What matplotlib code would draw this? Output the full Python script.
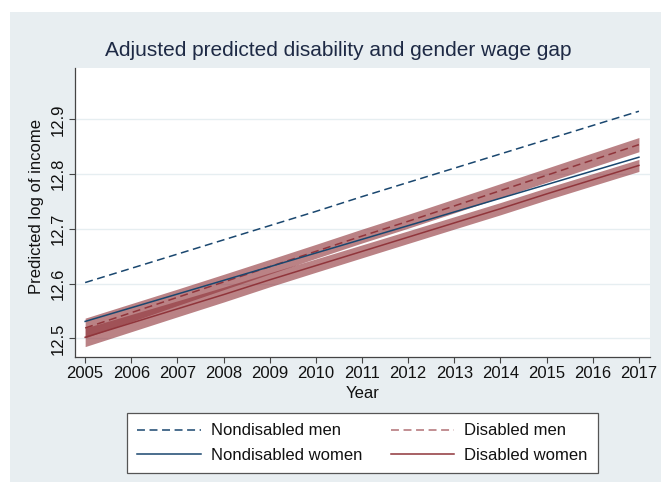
#!/usr/bin/env python3
"""Adjusted predicted log income by disability and gender, 2005-2017."""

from __future__ import annotations

import matplotlib

matplotlib.use("Agg")
import matplotlib.pyplot as plt
from matplotlib.lines import Line2D
from matplotlib.patches import Rectangle
import numpy as np


YEARS = [2005, 2006, 2007, 2008, 2009, 2010, 2011, 2012, 2013, 2014, 2015, 2016, 2017]

NONDISABLED_MEN = [12.602, 12.628, 12.654, 12.680, 12.706, 12.732, 12.759,
                   12.785, 12.811, 12.837, 12.863, 12.889, 12.915]
NONDISABLED_WOMEN = [12.531, 12.556, 12.581, 12.606, 12.631, 12.656, 12.681,
                     12.706, 12.731, 12.756, 12.781, 12.806, 12.831]
DISABLED_MEN = [12.519, 12.547, 12.575, 12.603, 12.631, 12.659, 12.687,
                12.714, 12.742, 12.770, 12.798, 12.826, 12.854]
DISABLED_WOMEN = [12.502, 12.528, 12.554, 12.580, 12.607, 12.633, 12.659,
                  12.685, 12.711, 12.737, 12.764, 12.790, 12.816]

# half-width of the 95% confidence band
DISABLED_MEN_CI = [0.018, 0.0165, 0.015, 0.014, 0.0133, 0.0128, 0.0127,
                   0.0127, 0.0127, 0.0128, 0.0129, 0.013, 0.013]
DISABLED_WOMEN_CI = [0.017, 0.0158, 0.0146, 0.0136, 0.0128, 0.0122, 0.0118,
                     0.0115, 0.0113, 0.0112, 0.0111, 0.011, 0.011]

Y_TICKS = [12.5, 12.6, 12.7, 12.8, 12.9]

NAVY = "#1A476F"
MAROON = "#90353B"
BACKGROUND = "#E8EEF1"
GRID = "#E6EEF1"
DASH = (0, (5.2, 3.0))


def main() -> int:
    plt.rcParams["font.family"] = ["Liberation Sans", "DejaVu Sans"]
    plt.rcParams["font.size"] = 12

    figure = plt.figure(figsize=(6.61, 4.82), dpi=100, facecolor="white")
    figure.patches.append(
        Rectangle((10 / 661, 0), 1, 1 - 12 / 482, transform=figure.transFigure,
                  facecolor=BACKGROUND, edgecolor="none", zorder=-1)
    )
    axis = figure.add_axes([75 / 661, 1 - 357 / 482, 575 / 661, 289 / 482])
    axis.set_facecolor("white")

    years = np.array(YEARS)
    men = np.array(DISABLED_MEN)
    women = np.array(DISABLED_WOMEN)
    men_ci = np.array(DISABLED_MEN_CI)
    women_ci = np.array(DISABLED_WOMEN_CI)

    axis.fill_between(years, men - men_ci, men + men_ci, color=MAROON,
                      alpha=0.62, linewidth=0, zorder=2)
    axis.fill_between(years, women - women_ci, women + women_ci, color=MAROON,
                      alpha=0.62, linewidth=0, zorder=2)

    lw = 1.1
    axis.plot(years, NONDISABLED_MEN, color=NAVY, linestyle=DASH, lw=lw, zorder=3)
    axis.plot(years, DISABLED_MEN, color=MAROON, linestyle=DASH, lw=lw, zorder=3)
    axis.plot(years, NONDISABLED_WOMEN, color=NAVY, lw=lw, zorder=3)
    axis.plot(years, DISABLED_WOMEN, color=MAROON, lw=lw, zorder=3)

    axis.set_xlim(2004.78, 2017.24)
    axis.set_ylim(12.466, 12.994)
    axis.set_xticks(YEARS)
    axis.set_yticks(Y_TICKS)
    axis.set_yticklabels([f"{v:.1f}" for v in Y_TICKS], rotation=90, va="center")
    axis.grid(axis="y", color=GRID, linewidth=1.0, zorder=1)
    axis.set_axisbelow(True)
    for side in ("top", "right"):
        axis.spines[side].set_visible(False)
    for side in ("left", "bottom"):
        axis.spines[side].set_color("#444444")
        axis.spines[side].set_linewidth(0.9)
    axis.tick_params(direction="out", length=4.5, width=0.8, color="#444444",
                     labelsize=12, labelcolor="#111111", pad=2)

    figure.text(338 / 661, 1 - 51 / 482, "Adjusted predicted disability and gender wage gap",
                ha="center", va="center", fontsize=15, color="#1E2A45")
    figure.text(37 / 661, 1 - 207 / 482, "Predicted log of income", rotation=90,
                ha="center", va="center", fontsize=12, color="#111111")
    figure.text(363 / 661, 1 - 393 / 482, "Year", ha="center", va="center",
                fontsize=12, color="#111111")

    handles = [
        Line2D([], [], color=NAVY, linestyle=DASH, lw=lw),
        Line2D([], [], color=NAVY, lw=lw),
        Line2D([], [], color=MAROON, linestyle=DASH, lw=lw, alpha=0.7),
        Line2D([], [], color=MAROON, lw=lw),
    ]
    labels = ["Nondisabled men", "Nondisabled women", "Disabled men", "Disabled women"]
    legend = figure.legend(
        handles, labels, ncol=2, loc="center",
        bbox_to_anchor=(362.5 / 661, 1 - 443 / 482),
        fontsize=12, handlelength=3.8, handletextpad=0.6, columnspacing=1.75,
        labelspacing=0.55, borderpad=0.62, fancybox=False, framealpha=1,
        edgecolor="#555555",
    )
    legend.get_frame().set_linewidth(0.9)
    for text in legend.get_texts():
        text.set_color("#111111")

    figure.savefig("out.png", dpi=100, facecolor=figure.get_facecolor())
    plt.close(figure)
    return 0


if __name__ == "__main__":
    raise SystemExit(main())
